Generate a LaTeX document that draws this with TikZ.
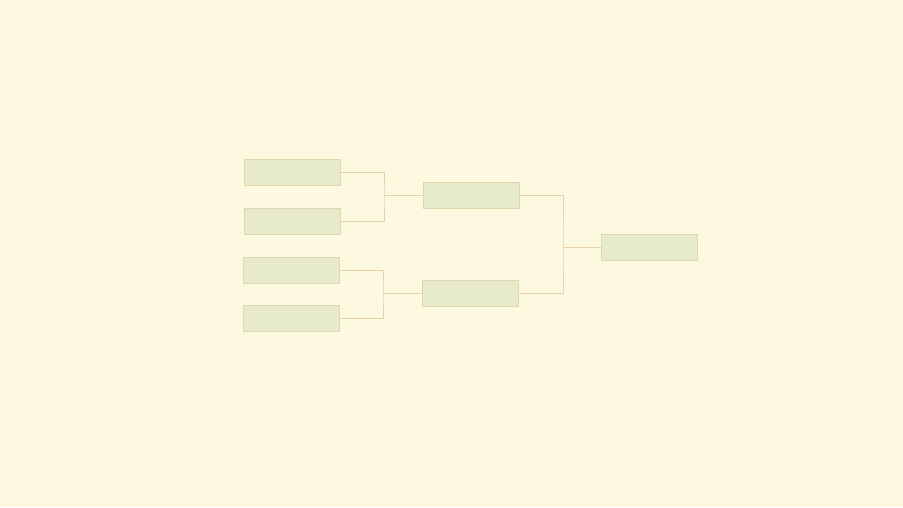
\documentclass[tikz,border=0pt]{standalone}
\usepackage{tikz}
\definecolor{paper}{RGB}{253,248,224}
\definecolor{boxfill}{RGB}{232,235,203}
\definecolor{boxline}{RGB}{222,216,174}
\definecolor{wire}{RGB}{232,210,170}
\tikzset{
	slot/.style={draw=boxline, fill=boxfill, line width=0.5pt, minimum width=2.88cm, minimum height=0.79cm, inner sep=0pt},
	link/.style={draw=wire, line width=0.6pt}
}

\begin{document}
\begin{tikzpicture}[x=0.03cm, y=-0.03cm]
			%%%%% START %%%%%
			
			\fill[paper] (0, 0) rectangle (903, 507);
			\useasboundingbox (0, 0) rectangle (903, 507);
			
			\node[slot] (a1) at (292, 172) {};
			\node[slot] (a2) at (292, 221) {};
			\node[slot] (a3) at (291, 270) {};
			\node[slot] (a4) at (291, 318.5) {};
			
			\node[slot] (b1) at (471, 195.5) {};
			\node[slot] (b2) at (470, 293.5) {};
			
			\node[slot] (c1) at (649.5, 247.5) {};
			
			\coordinate (j1) at (384, 195.5);
			\coordinate (j2) at (383, 293.5);
			\coordinate (j3) at (563, 247.5);
			
			\draw[link] (a1.east) -| (j1) |- (a2.east);
			\draw[link] (j1) -- (b1.west);
			
			\draw[link] (a3.east) -| (j2) |- (a4.east);
			\draw[link] (j2) -- (b2.west);
			
			\draw[link] (b1.east) -| (j3) |- (b2.east);
			\draw[link] (j3) -- (c1.west);
			
			%%%%% END %%%%%
		\end{tikzpicture}
\end{document}
